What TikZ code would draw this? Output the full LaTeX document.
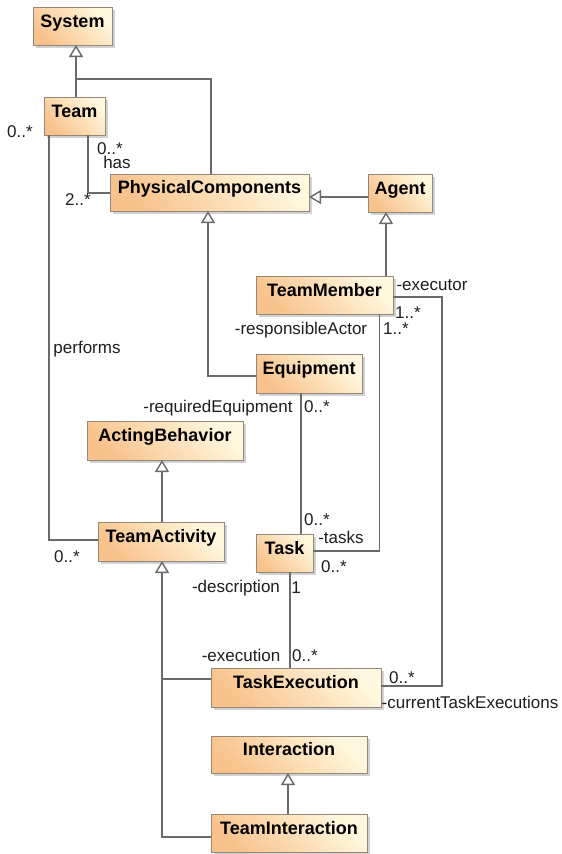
\documentclass[tikz,border=0pt]{standalone}
\usepackage{fontspec}
\setmainfont{Liberation Sans}
\usetikzlibrary{arrows.meta,shadows,calc}
\definecolor{boxL}{HTML}{F8C28C}
\definecolor{boxR}{HTML}{FFF8DE}
\definecolor{boxB}{HTML}{948678}
\definecolor{linec}{HTML}{6A6A6A}
\definecolor{labc}{HTML}{1E1E1E}
\begin{document}
\begin{tikzpicture}[x=1pt,y=-1pt,
 cls/.style={draw=boxB, line width=0.8pt, top color=boxR, bottom color=boxL, shading angle=-45,
   drop shadow={shadow xshift=3pt, shadow yshift=-3pt, fill=black!40, opacity=0.45},
   inner sep=0pt, outer sep=0pt, text height=13pt, text depth=11pt,
   font=\bfseries\fontsize{18}{20}\selectfont, text=black},
 assoc/.style={draw=linec, line width=1.4pt},
 gen/.style={assoc, -{Triangle[open, width=14pt, length=12pt, fill=white]}},
 lab/.style={anchor=base, inner sep=0pt, text=labc, font=\fontsize{17}{20}\selectfont}
]
\useasboundingbox (0,0) rectangle (562,854);
\fill[white] (0,0) rectangle (562,854);

\node[cls, minimum width=79pt, minimum height=38pt] (System) at (72.5,26) {System};
\node[cls, minimum width=61pt, minimum height=38pt] (Team) at (74.5,116) {Team};
\node[cls, minimum width=199pt, minimum height=37pt] (PC) at (209.5,192.5) {PhysicalComponents};
\node[cls, minimum width=64pt, minimum height=38pt] (Agent) at (400,193) {Agent};
\node[cls, minimum width=137pt, minimum height=38pt] (TeamMember) at (324.5,295) {TeamMember};
\node[cls, minimum width=106pt, minimum height=39pt] (Equipment) at (309,373.5) {Equipment};
\node[cls, minimum width=156pt, minimum height=39pt] (ActingBehavior) at (165,440.5) {ActingBehavior};
\node[cls, minimum width=126pt, minimum height=39pt] (TeamActivity) at (161,541.5) {TeamActivity};
\node[cls, minimum width=57pt, minimum height=38pt] (Task) at (284.5,553) {Task};
\node[cls, minimum width=170pt, minimum height=39pt] (TaskExecution) at (296,687.5) {TaskExecution};
\node[cls, minimum width=156pt, minimum height=37pt] (Interaction) at (289,754.5) {Interaction};
\node[cls, minimum width=156pt, minimum height=38pt] (TeamInteraction) at (289,833) {TeamInteraction};

\coordinate (jS) at (76,79);
\coordinate (xPC) at (211,0);
\coordinate (xHas) at (88,193);
\coordinate (xPerf) at (49,540);
\coordinate (yAg) at (0,197);
\coordinate (xAg) at (386,0);
\coordinate (xEq) at (208,376);
\coordinate (xAB) at (162,679);
\coordinate (xEqT) at (301,0);
\coordinate (xResp) at (379.5,551);
\coordinate (xExec) at (442,297);
\coordinate (yExec) at (0,686);
\coordinate (xTE) at (290,0);
\coordinate (yTI) at (0,837);
\coordinate (xInt) at (288,0);

\draw[gen] (Team.north -| jS) -- (System.south -| jS);
\draw[assoc] (PC.north -| xPC) |- (jS);
\draw[assoc] (Team.south -| xHas) |- (PC.west |- xHas);
\draw[assoc] (Team.south -| xPerf) |- (TeamActivity.west |- xPerf);
\draw[gen] (Agent.west |- yAg) -- (PC.east |- yAg);
\draw[gen] (TeamMember.north -| xAg) -- (Agent.south -| xAg);
\draw[gen] (Equipment.west |- xEq) -| (PC.south -| xEq);
\draw[gen] (TeamActivity.north -| xAB) -- (ActingBehavior.south -| xAB);
\draw[assoc] (Equipment.south -| xEqT) -- (Task.north -| xEqT);
\draw[assoc] (TeamMember.south -| xResp) |- (Task.east |- xResp);
\draw[assoc] (TeamMember.east |- xExec) -| (xExec |- yExec) -- (TaskExecution.east |- yExec);
\draw[assoc] (Task.south -| xTE) -- (TaskExecution.north -| xTE);
\draw[gen] (TaskExecution.west |- xAB) -| (TeamActivity.south -| xAB);
\draw[assoc] (TeamInteraction.west |- yTI) -| (xAB);
\draw[gen] (TeamInteraction.north -| xInt) -- (Interaction.south -| xInt);

\node[lab] (l1) at (20,137) {0..*};
\node[lab] (l2) at (110,154) {0..*};
\node[lab] (l3) at (117,168) {has};
\node[lab] (l4) at (78,205) {2..*};
\node[lab] (l5) at (87,353) {performs};
\node[lab] (l6) at (67,562) {0..*};
\node[lab] (l7) at (218,412) {-requiredEquipment};
\node[lab] (l8) at (317,412) {0..*};
\node[lab] (l9) at (317,525) {0..*};
\node[lab] (l10) at (341,543) {-tasks};
\node[lab] (l11) at (334,572) {0..*};
\node[lab] (l12) at (432,290) {-executor};
\node[lab] (l13) at (408,318) {1..*};
\node[lab] (l14) at (301,334) {-responsibleActor};
\node[lab] (l15) at (396,334) {1..*};
\node[lab] (l16) at (236,592) {-description};
\node[lab] (l17) at (296,593) {1};
\node[lab] (l18) at (241,661) {-execution};
\node[lab] (l19) at (305,661) {0..*};
\node[lab] (l20) at (402,683) {0..*};
\node[lab] (l21) at (470,708) {-currentTaskExecutions};
\end{tikzpicture}
\end{document}
